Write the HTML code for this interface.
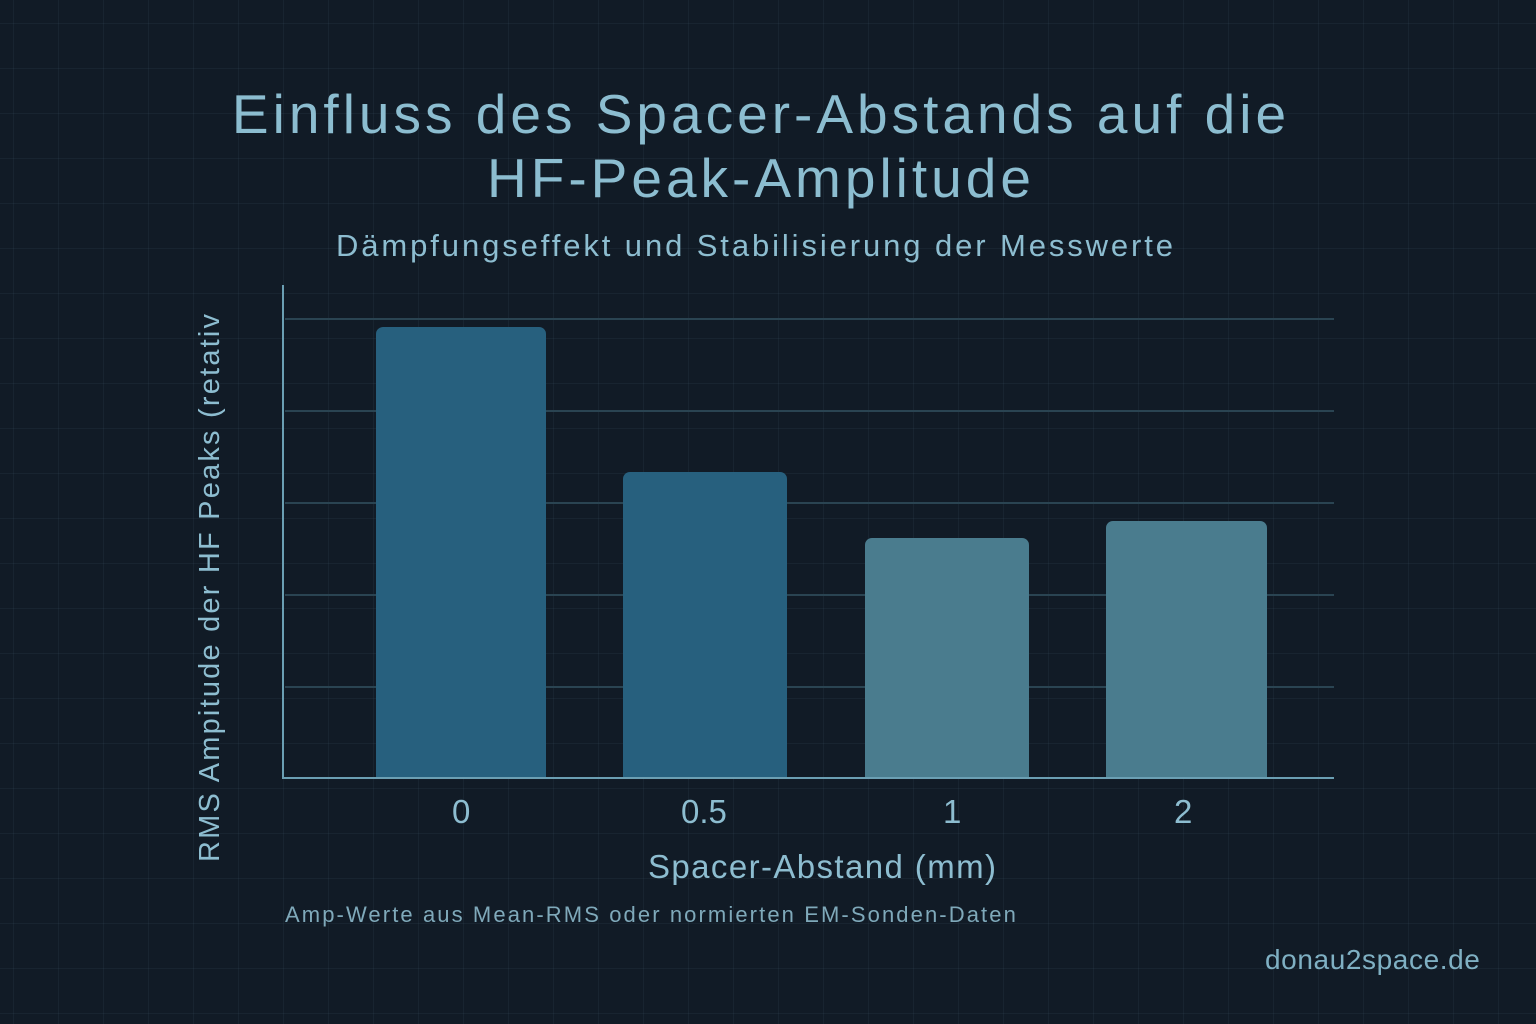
<!DOCTYPE html>
<html><head><meta charset="utf-8"><style>
html,body{margin:0;padding:0}
body{width:1536px;height:1024px;overflow:hidden;background:#111b26;font-family:"Liberation Sans","DejaVu Sans",sans-serif;position:relative;
background-image:linear-gradient(rgba(120,160,180,0.07) 1px,transparent 1px),linear-gradient(90deg,rgba(120,160,180,0.07) 1px,transparent 1px);
background-size:45px 45px;background-position:13px 23px}
.t{position:absolute;color:#8dbdd0;white-space:nowrap}
</style></head><body>
<div class="t" style="left:0;width:1522px;text-align:center;top:82px;font-size:55px;line-height:64px;color:#8cbdd0;letter-spacing:4px">Einfluss des Spacer-Abstands auf die<br>HF-Peak-Amplitude</div>
<div class="t" style="left:336px;top:228px;font-size:31px;letter-spacing:2.9px">Dämpfungseffekt und Stabilisierung der Messwerte</div>
<svg width="1536" height="1024" style="position:absolute;left:0;top:0">
<g stroke="#2a4452" stroke-width="2">
<line x1="285" y1="319" x2="1334" y2="319"/><line x1="285" y1="411" x2="1334" y2="411"/>
<line x1="285" y1="503" x2="1334" y2="503"/><line x1="285" y1="595" x2="1334" y2="595"/>
<line x1="285" y1="687" x2="1334" y2="687"/>
</g>
<g fill="#27607e">
<rect x="376" y="327" width="170" height="451" rx="7"/><rect x="376" y="700" width="170" height="78"/>
<rect x="623" y="472" width="164" height="306" rx="7"/><rect x="623" y="700" width="164" height="78"/>
</g>
<g fill="#4a7c8e">
<rect x="865" y="538" width="164" height="240" rx="7"/><rect x="865" y="700" width="164" height="78"/>
<rect x="1106" y="521" width="161" height="257" rx="7"/><rect x="1106" y="700" width="161" height="78"/>
</g>
<line x1="283" y1="285" x2="283" y2="779" stroke="#6b9fb3" stroke-width="2"/>
<line x1="282" y1="778" x2="1334" y2="778" stroke="#6b9fb3" stroke-width="2"/>
</svg>
<div class="t" style="left:452px;top:793px;font-size:33px">0</div>
<div class="t" style="left:681px;top:793px;font-size:33px">0.5</div>
<div class="t" style="left:943px;top:793px;font-size:33px">1</div>
<div class="t" style="left:1174px;top:793px;font-size:33px">2</div>
<div class="t" style="left:648px;top:848px;font-size:33px;letter-spacing:1.4px">Spacer-Abstand (mm)</div>
<div class="t" style="left:194px;top:862px;font-size:29px;transform-origin:0 0;transform:rotate(-90deg);letter-spacing:2.2px">RMS Ampitude der HF Peaks (retativ</div>
<div class="t" style="left:285px;top:902px;font-size:22px;color:#7fa9ba;letter-spacing:2.1px">Amp-Werte aus Mean-RMS oder normierten EM-Sonden-Daten</div>
<div class="t" style="left:1265px;top:944px;font-size:28px;color:#7fb0c3;letter-spacing:0.6px">donau2space.de</div>
</body></html>
